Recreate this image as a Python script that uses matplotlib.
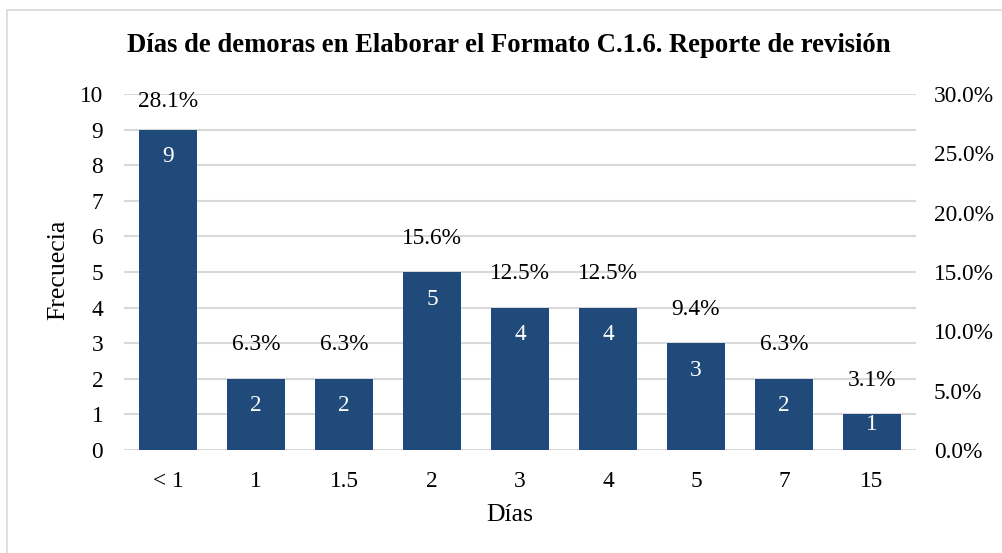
import matplotlib.pyplot as plt
from matplotlib.patches import Rectangle
from matplotlib.ticker import PercentFormatter

# Datos
categorias = ['< 1', '1', '1.5', '2', '3', '4', '5', '7', '15']
frecuencia = [9, 2, 2, 5, 4, 4, 3, 2, 1]
porcentaje = [28.1, 6.3, 6.3, 15.6, 12.5, 12.5, 9.4, 6.3, 3.1]

plt.rcParams['font.family'] = ['Liberation Serif', 'DejaVu Serif']

fig = plt.figure(figsize=(10.03, 5.53), dpi=100)
ax = fig.add_axes([124 / 1003, 1 - 450 / 553, 792 / 1003, 356 / 553])

# marco gris del grafico
fig.patches.append(Rectangle((7 / 1003, -0.05), 1.1, 1 - 10 / 553 + 0.05,
                             transform=fig.transFigure, fill=False,
                             edgecolor='#d9d9d9', linewidth=1.2))

x = range(len(categorias))
ax.bar(x, frecuencia, width=0.66, color='#1F4A7A', zorder=3)
ax.set_xlim(-0.5, len(categorias) - 0.5)
ax.set_ylim(0, 10)
ax.set_yticks(range(0, 11))
ax.set_xticks(list(x))
ax.set_xticklabels(categorias)
ax.grid(axis='y', color='#d9d9d9', linewidth=1.5, zorder=0)
for s in ax.spines.values():
    s.set_visible(False)
ax.tick_params(length=0, labelsize=16.8)
ax.tick_params(axis='x', pad=15)
ax.tick_params(axis='y', pad=15)

# etiquetas dentro y encima de las barras
for i, (f, p) in enumerate(zip(frecuencia, porcentaje)):
    ax.text(i, max(f - 0.76, 0.73), str(f), color='white', ha='center',
            va='center', fontsize=16.8, zorder=4)
    ax.text(i, min(f + 0.95, 9.8), f'{p:.1f}%', color='black', ha='center',
            va='center', fontsize=16.8, zorder=4)

ax2 = ax.twinx()
ax2.set_ylim(0, 0.30)
ax2.set_yticks([0, 0.05, 0.10, 0.15, 0.20, 0.25, 0.30])
ax2.yaxis.set_major_formatter(PercentFormatter(1.0, decimals=1))
for s in ax2.spines.values():
    s.set_visible(False)
ax2.tick_params(length=0, labelsize=16.8, pad=13)

fig.text(510 / 1003, 1 - 515 / 553, 'Días', ha='center', va='center',
         fontsize=18.5)
fig.text(58 / 1003, 1 - 270 / 553, 'Frecuecia', ha='center', va='center',
         rotation=90, fontsize=18.5)
fig.text(509 / 1003, 1 - 46 / 553,
         'Días de demoras en Elaborar el Formato C.1.6. Reporte de revisión',
         ha='center', va='center', fontsize=19.2, fontweight='bold')

fig.savefig('out.png', dpi=100)
